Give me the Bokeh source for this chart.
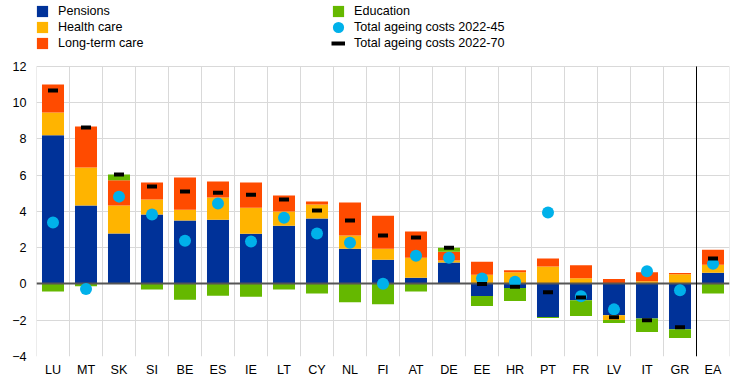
from bokeh.plotting import figure
from bokeh.models import (ColumnDataSource, FactorRange, Range1d, FixedTicker,
                          Legend, LegendItem)
from bokeh.embed import file_html
from bokeh.resources import INLINE

countries = ["LU", "MT", "SK", "SI", "BE", "ES", "IE", "LT", "CY", "NL", "FI",
             "AT", "DE", "EE", "HR", "PT", "FR", "LV", "IT", "GR", "EA"]
pensions = [8.20, 4.33, 2.78, 3.83, 3.50, 3.55, 2.77, 3.22, 3.61, 1.95, 1.34,
            0.35, 1.18, -0.66, -0.22, -1.82, -0.90, -1.73, -1.90, -2.50, 0.62]
health = [1.26, 2.09, 1.55, 0.83, 0.60, 1.22, 1.44, 0.78, 0.77, 0.72, 0.61,
          1.10, 0.11, 0.51, 0.65, 0.96, 0.32, -0.25, 0.15, 0.54, 0.44]
long_term_care = [1.55, 2.27, 1.39, 0.94, 1.77, 0.88, 1.39, 0.88, 0.17, 1.82, 1.82,
                  1.44, 0.49, 0.72, 0.11, 0.44, 0.72, 0.27, 0.50, 0.06, 0.83]
education = [-0.41, -0.13, 0.32, -0.30, -0.87, -0.65, -0.70, -0.30, -0.52, -1.01, -1.12,
             -0.41, 0.22, -0.55, -0.72, -0.06, -0.86, -0.17, -0.75, -0.48, -0.53]
total_2045 = [3.39, -0.28, 4.82, 3.83, 2.39, 4.44, 2.34, 3.66, 2.78, 2.28, 0.02,
              1.56, 1.45, 0.31, 0.13, 3.94, -0.68, -1.40, 0.70, -0.35, 1.12]
total_2070 = [10.68, 8.63, 6.04, 5.38, 5.10, 5.04, 4.93, 4.66, 4.05, 3.50, 2.67,
              2.56, 2.00, 0.00, -0.15, -0.46, -0.74, -1.84, -2.00, -2.39, 1.40]
y_ticks = [-4, -2, 0, 2, 4, 6, 8, 10, 12]

series = [("Pensions", pensions, "#003299"),
          ("Health care", health, "#ffb400"),
          ("Long-term care", long_term_care, "#ff4b00"),
          ("Education", education, "#65b800")]

FONT = "Liberation Sans"
FS = "12.6px"
Y_TOP = 15.64   # extra room above the value axis for the legend

p = figure(x_range=FactorRange(*countries), y_range=Range1d(y_ticks[0], Y_TOP),
           width=745, height=379, output_backend="svg", toolbar_location=None,
           min_border_left=36, min_border_right=16, min_border_top=0,
           min_border_bottom=23)
p.title.visible = False
p.outline_line_color = None

# axes
p.yaxis.ticker = FixedTicker(ticks=y_ticks)
p.ygrid.ticker = FixedTicker(ticks=y_ticks)
for ax in (p.xaxis, p.yaxis):
    ax.axis_line_color = None
    ax.major_tick_line_color = None
    ax.minor_tick_line_color = None
    ax.major_tick_out = 0
    ax.major_label_text_font = FONT
    ax.major_label_text_font_size = FS
    ax.major_label_text_color = "#000000"
    ax.axis_label_standoff = 0
p.yaxis.major_label_standoff = 10
p.xaxis.major_label_standoff = 6
p.ygrid.grid_line_color = "#d9d9d9"
p.xgrid.grid_line_color = None

# vertical grid lines at category boundaries, limited to the value axis extent
bounds = list(range(len(countries) + 1))
p.segment(x0=bounds, x1=bounds, y0=[y_ticks[0]] * len(bounds),
          y1=[y_ticks[-1]] * len(bounds), line_color="#d9d9d9", line_width=1)

# stacked bars (positive and negative parts stacked separately)
pos = [0.0] * len(countries)
neg = [0.0] * len(countries)
bar_renderers = {}
for name, vals, color in series:
    tops, bottoms = [], []
    for i, v in enumerate(vals):
        if v >= 0:
            bottoms.append(pos[i]); tops.append(pos[i] + v); pos[i] += v
        else:
            tops.append(neg[i]); bottoms.append(neg[i] + v); neg[i] += v
    src = ColumnDataSource(dict(x=countries, top=tops, bottom=bottoms))
    r = p.vbar(x="x", top="top", bottom="bottom", width=0.667, source=src,
               fill_color=color, line_color=None)
    bar_renderers[name] = r

# zero line
p.hspan(y=[0], line_color="#555555", line_width=2)

# EA separator
sep = len(countries) - 1
p.segment(x0=[sep], x1=[sep], y0=[y_ticks[0]], y1=[y_ticks[-1]],
          line_color="#000000", line_width=1)

src_t = ColumnDataSource(dict(x=countries, t45=total_2045, t70=total_2070))
r_dot = p.ellipse(x="x", y="t45", width=12, height=12, width_units="screen",
                  height_units="screen", fill_color="#00b1ea", line_color=None,
                  source=src_t)
p.rect(x="x", y="t70", width=10, height=4, width_units="screen",
       height_units="screen", fill_color="#000000", line_color=None, source=src_t)
r_dash = p.line(x=[countries[0]], y=[float("nan")], line_color="#000000", line_width=4)

items = [LegendItem(label="Pensions", renderers=[bar_renderers["Pensions"]]),
         LegendItem(label="Health care", renderers=[bar_renderers["Health care"]]),
         LegendItem(label="Long-term care", renderers=[bar_renderers["Long-term care"]]),
         LegendItem(label="Education", renderers=[bar_renderers["Education"]]),
         LegendItem(label="Total ageing costs 2022-45", renderers=[r_dot]),
         LegendItem(label="Total ageing costs 2022-70", renderers=[r_dash])]
leg = Legend(items=items, location=(-1, 306), orientation="vertical", nrows=3,
             glyph_width=14, glyph_height=14, label_standoff=9, spacing=2,
             padding=0, margin=0, border_line_color=None,
             background_fill_alpha=0, label_text_font=FONT,
             label_text_font_size=FS, label_text_color="#000000",
             label_height=14, label_width=271)
p.add_layout(leg)

open("out.html", "w").write(file_html(p, INLINE))
